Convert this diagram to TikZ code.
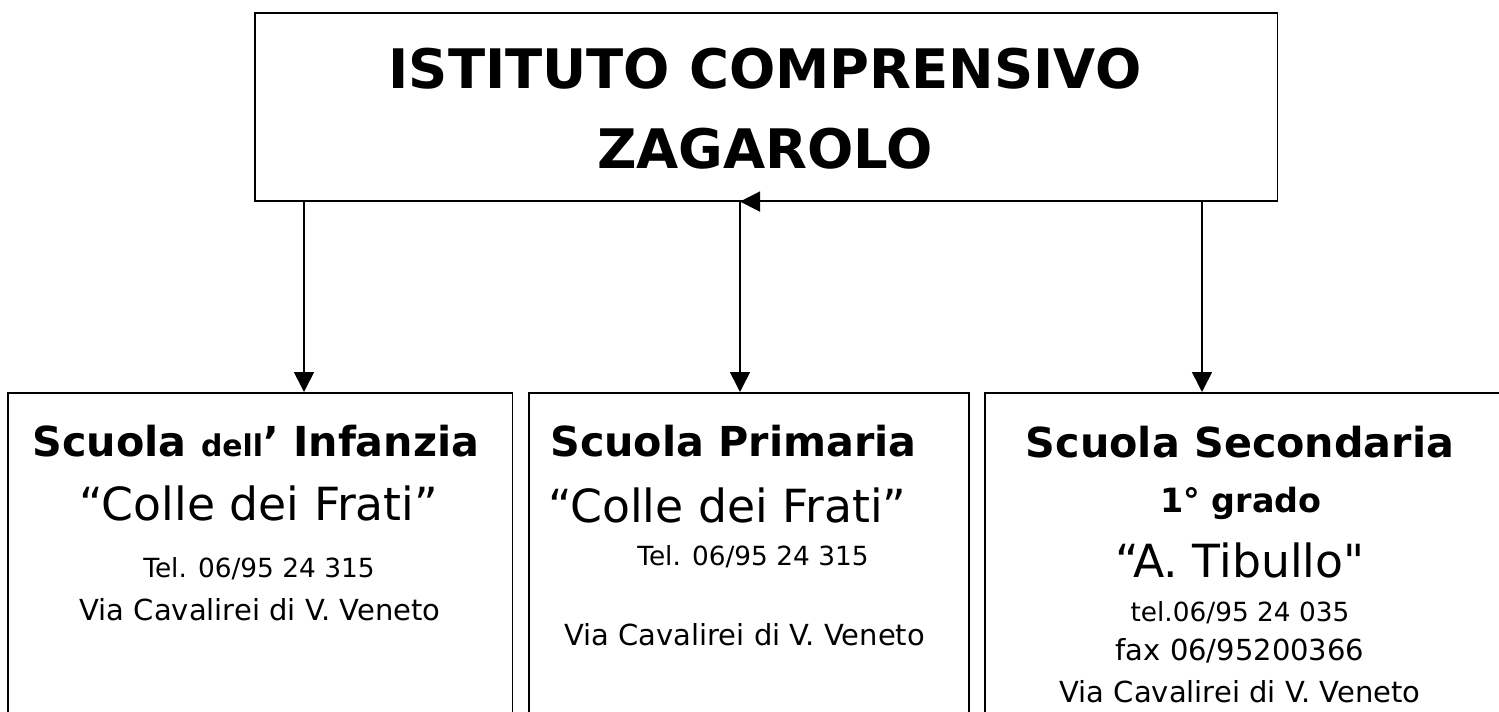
\documentclass[tikz,border=0pt]{standalone}
\usepackage{fontspec}
\setmainfont{DejaVu Sans}[Ligatures=TeXOff]
\usetikzlibrary{arrows.meta}

\tikzset{
  box/.style={draw, line width=0.9pt, rectangle, anchor=north west, inner sep=0pt},
  link/.style={line width=0.9pt, -{Triangle[length=0.4cm, width=0.4cm]}},
  line/.style={anchor=base, inner sep=0pt},
  lineleft/.style={anchor=base west, inner sep=0pt}
}
\newcommand{\titlefont}{\fontsize{31}{31}\selectfont\bfseries}
\newcommand{\headfont}{\fontsize{23.5}{23.5}\selectfont\bfseries}
\newcommand{\namefont}{\fontsize{26}{26}\selectfont}
\newcommand{\infofont}{\fontsize{15}{15}\selectfont}
\newcommand{\addrfont}{\fontsize{16.5}{16.5}\selectfont}

\begin{document}
\begin{tikzpicture}[x=0.02cm, y=-0.02cm]
  \useasboundingbox (0,0) rectangle (1499,711);

  % boxes
  \node[box, minimum width=20.46cm, minimum height=3.76cm] (ic) at (254,12) {};
  \node[box, minimum width=10.1cm, minimum height=7cm] (infanzia) at (7,392) {};
  \node[box, minimum width=8.8cm, minimum height=7cm] (primaria) at (528,392) {};
  \node[box, minimum width=10.5cm, minimum height=7cm] (secondaria) at (984,392) {};

  % title
  \node[line] (title1) at (765,88) {\titlefont ISTITUTO COMPRENSIVO};
  \node[line] (title2) at (765,168) {\titlefont ZAGAROLO};

  % arrows
  \path (ic.south west) ++(50,0) coordinate (out1);
  \path (ic.south west) ++(486,0) coordinate (out2);
  \path (ic.south west) ++(948,0) coordinate (out3);
  \path (out2) ++(18,0) coordinate (tipbase);
  \draw[link] (out1) -- (out1 |- infanzia.north);
  \draw[link] (out2) -- (out2 |- primaria.north);
  \draw[link] (out3) -- (out3 |- secondaria.north);
  \draw[link] (tipbase) -- (out2);

  % infanzia
  \node[line] (inf1) at (256,456) {\headfont Scuola {\fontsize{17}{17}\selectfont dell}’ Infanzia};
  \node[line] (inf2) at (259,520) {\namefont “Colle dei Frati”};
  \node[line] (inf3) at (259,577) {\infofont Tel. 06/95 24 315};
  \node[line] (inf4) at (260,620) {\addrfont Via Cavalirei di V. Veneto};

  % primaria
  \node[lineleft] (pri1) at (550,456) {\headfont Scuola Primaria};
  \node[lineleft] (pri2) at (548,522) {\namefont “Colle dei Frati”};
  \node[lineleft] (pri3) at (637,565) {\infofont Tel. 06/95 24 315};
  \node[lineleft] (pri4) at (564,645) {\addrfont Via Cavalirei di V. Veneto};

  % secondaria
  \node[line] (sec1) at (1240,457) {\headfont Scuola Secondaria};
  \node[line] (sec2) at (1241,512) {\fontsize{19}{19}\selectfont\bfseries 1° grado};
  \node[line] (sec3) at (1240,577) {\namefont “A. Tibullo"};
  \node[line] (sec4) at (1240,621) {\infofont tel.06/95 24 035};
  \node[line] (sec5) at (1240,660) {\addrfont fax 06/95200366};
  \node[line] (sec6) at (1240,702) {\addrfont Via Cavalirei di V. Veneto};
\end{tikzpicture}
\end{document}
